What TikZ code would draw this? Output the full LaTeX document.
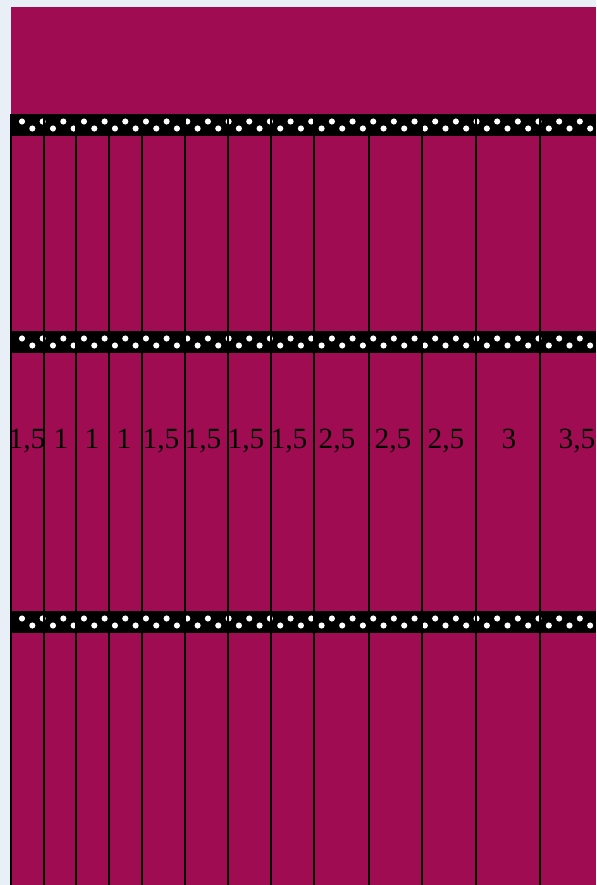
\documentclass[tikz,border=0pt]{standalone}
\usepackage{fontspec}
\setmainfont{Liberation Serif}
\usetikzlibrary{positioning}
\definecolor{pagebg}{HTML}{E9EFF7}
\definecolor{plum}{HTML}{A00C52}
\tikzset{
  band/.style={fill=black},
  dot/.style={fill=white},
  slat/.style={draw=black, line width=1.5pt},
  widthlabel/.style={font=\fontsize{22}{22}\selectfont, inner sep=0pt, anchor=base}
}
\begin{document}
\begin{tikzpicture}[x=0.75pt,y=-0.75pt]
  \fill[pagebg] (0,0) rectangle (596,885);
  \useasboundingbox (0,0) rectangle (596,885);
  \fill[plum] (11,7) rectangle (596,885);
  % dotted bands
  \foreach \ytop/\xl in {114/10, 331/10, 611/12} {
    \fill[band] (\xl,\ytop) rectangle (596,\ytop+22);
    \foreach \k in {0,...,55} {
      \pgfmathsetmacro\dx{22+10.33*\k}
      \pgfmathsetmacro\dy{\ytop+7.5+7*mod(\k,2)}
      \fill[dot] (\dx,\dy) circle (2.3pt);
    }
  }
  % slats
  \foreach \x in {11,44,76,109,142,185,228,271,314,369,422,476,539.5}
    \draw[slat] (\x,114) -- (\x,885);
  % widths
  \foreach \cx/\txt [count=\i] in {27/{1,5}, 61/1, 92/1, 124/1, 161/{1,5}, 203/{1,5},
      246/{1,5}, 289/{1,5}, 337/{2,5}, 393/{2,5}, 446/{2,5}, 509/3, 577/{3,5}}
    \node[widthlabel] (w\i) at (\cx,448) {\txt};
\end{tikzpicture}
\end{document}
